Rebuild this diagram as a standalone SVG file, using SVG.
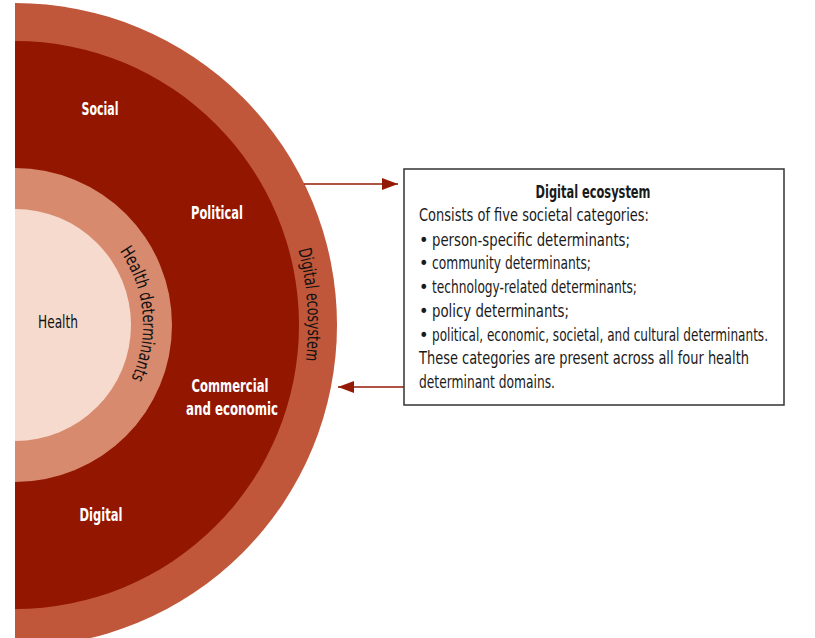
<svg xmlns="http://www.w3.org/2000/svg" xmlns:xlink="http://www.w3.org/1999/xlink" width="815" height="638" viewBox="0 0 815 638">
  <style>
    text { font-family: "Liberation Sans Narrow", "DejaVu Sans Condensed", "Liberation Sans", sans-serif; font-stretch: condensed; }
    .lbl { fill: #ffffff; font-weight: bold; font-size: 18px; text-anchor: middle; }
    .ring { fill: #111111; font-size: 18px; text-anchor: middle; }
    .box { fill: #1a1a1a; font-size: 18px; }
    .conn { stroke: #951A06; stroke-width: 1.6; fill: none; }
  </style>
  <defs>
    <clipPath id="half"><rect x="15" y="0" width="800" height="638"/></clipPath>
    <marker id="ah" viewBox="0 0 16 12" refX="16" refY="6" markerWidth="16" markerHeight="12" markerUnits="userSpaceOnUse" orient="auto">
      <path d="M0,0 L16,6 L0,12 Z" fill="#951A06"/>
    </marker>
    <path id="arcHD" d="M15,197 A128,128 0 0 1 15,453"/>
    <path id="arcDE" d="M15,32 A293,293 0 0 1 15,618"/>
  </defs>
  <rect width="815" height="638" fill="#ffffff"/>

  <g id="circles" clip-path="url(#half)">
    <g id="digital-ecosystem-ring"><circle cx="15" cy="325" r="322" fill="#C0573A"/></g>
    <g id="determinant-domains"><circle cx="15" cy="325" r="284" fill="#931600"/></g>
    <g id="health-determinants-ring"><circle cx="15" cy="325" r="157" fill="#D78A6E"/></g>
    <g id="health"><circle cx="15" cy="325" r="116" fill="#F5DACD"/></g>
  </g>

  <g id="labels">
    <text class="lbl" x="100" y="115" textLength="37" lengthAdjust="spacingAndGlyphs">Social</text>
    <text class="lbl" x="217" y="219" textLength="52" lengthAdjust="spacingAndGlyphs">Political</text>
    <text class="lbl" x="230" y="392" textLength="77" lengthAdjust="spacingAndGlyphs">Commercial</text>
    <text class="lbl" x="232" y="415" textLength="92" lengthAdjust="spacingAndGlyphs">and economic</text>
    <text class="lbl" x="101" y="521" textLength="43" lengthAdjust="spacingAndGlyphs">Digital</text>
    <text class="ring" x="58" y="328" textLength="40" lengthAdjust="spacingAndGlyphs">Health</text>
    <text class="ring"><textPath xlink:href="#arcHD" href="#arcHD" startOffset="47.1%" textLength="134" lengthAdjust="spacingAndGlyphs">Health determinants</textPath></text>
    <text class="ring"><textPath xlink:href="#arcDE" href="#arcDE" startOffset="47.8%" textLength="112" lengthAdjust="spacingAndGlyphs">Digital ecosystem</textPath></text>
  </g>

  <g id="connectors">
    <line class="conn" x1="304" y1="184" x2="398" y2="184" marker-end="url(#ah)"/>
    <line class="conn" x1="404" y1="387" x2="338" y2="387" marker-end="url(#ah)"/>
  </g>

  <g id="info-box">
    <rect x="404" y="169" width="380" height="236" fill="#ffffff" stroke="#333333" stroke-width="1.5"/>
    <text class="box" x="593" y="198" text-anchor="middle" font-weight="bold" textLength="115" lengthAdjust="spacingAndGlyphs">Digital ecosystem</text>
    <text class="box" x="419" y="221" textLength="230" lengthAdjust="spacingAndGlyphs">Consists of  five societal categories:</text>
    <text class="box" x="419" y="246">•</text>
    <text class="box" x="432" y="246" textLength="198" lengthAdjust="spacingAndGlyphs">person-specific determinants;</text>
    <text class="box" x="419" y="269">•</text>
    <text class="box" x="432" y="269" textLength="159" lengthAdjust="spacingAndGlyphs">community determinants;</text>
    <text class="box" x="419" y="293">•</text>
    <text class="box" x="432" y="293" textLength="205" lengthAdjust="spacingAndGlyphs">technology-related determinants;</text>
    <text class="box" x="419" y="317">•</text>
    <text class="box" x="432" y="317" textLength="137" lengthAdjust="spacingAndGlyphs">policy determinants;</text>
    <text class="box" x="419" y="341">•</text>
    <text class="box" x="432" y="341" textLength="336" lengthAdjust="spacingAndGlyphs">political, economic, societal, and cultural determinants.</text>
    <text class="box" x="419" y="364" textLength="330" lengthAdjust="spacingAndGlyphs">These categories are present across all four health</text>
    <text class="box" x="419" y="388" textLength="136" lengthAdjust="spacingAndGlyphs">determinant domains.</text>
  </g>
</svg>
